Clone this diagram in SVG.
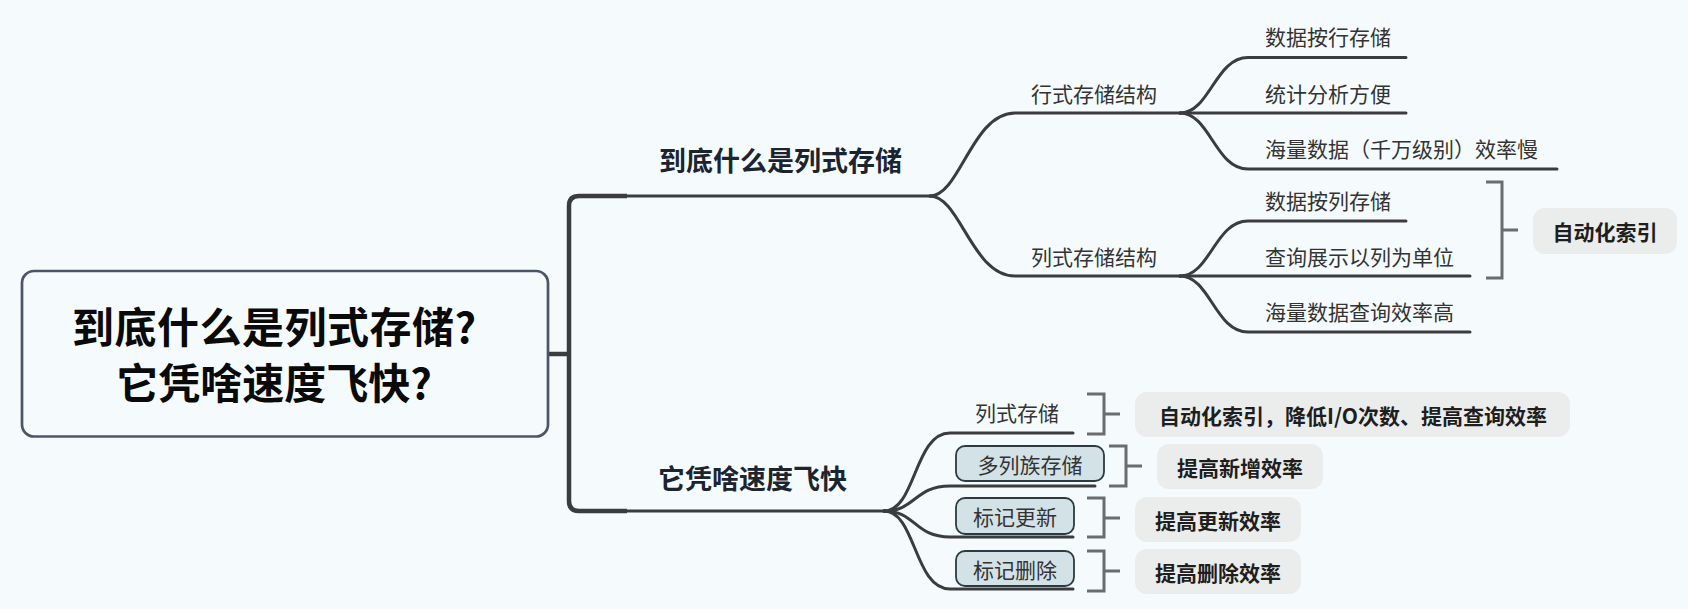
<svg xmlns="http://www.w3.org/2000/svg" width="1688" height="609" viewBox="0 0 1688 609">
<style>
text{font-family:"Noto Sans CJK SC","Noto Sans",sans-serif;dominant-baseline:central}
.root{font-size:42px;font-weight:700;fill:#0a0a0a}
.main{font-size:27px;font-weight:700;fill:#1c2430}
.leaf{font-size:21px;fill:#333333}
.note{font-size:21px;font-weight:700;fill:#1e1e1e}
.ln{fill:none;stroke:#3a3c3e;stroke-width:3;stroke-linecap:round}
.thick{fill:none;stroke:#3a3c3e;stroke-width:4.5}
.br{fill:none;stroke:#6a6d70;stroke-width:3}
.nbox{fill:#ebecec}
.tbox{fill:#d3e2e7;stroke:#2c3a42;stroke-width:1.8}
</style>
<rect width="1688" height="609" fill="#f5fbfc"/>
<g id="connectors">
  <path class="thick" d="M548 354 H569"/>
  <path class="thick" d="M627 196 H579 Q569 196 569 206 V501 Q569 511 579 511 H627"/>
  <path class="ln" d="M627 196 H932"/>
  <path class="ln" d="M627 511 H886"/>
  <path class="ln" d="M930 196 C960 196 972 113 1015 113 H1180"/>
  <path class="ln" d="M930 196 C960 196 972 276 1015 276 H1180"/>
  <path class="ln" d="M1180 113 C1210 113 1215 57.5 1248 57.5 H1406"/>
  <path class="ln" d="M1180 113 H1406"/>
  <path class="ln" d="M1180 113 C1210 113 1215 169 1248 169 H1557"/>
  <path class="ln" d="M1180 276 C1210 276 1215 221 1248 221 H1406"/>
  <path class="ln" d="M1180 276 H1470"/>
  <path class="ln" d="M1180 276 C1210 276 1215 332 1248 332 H1470"/>
  <path class="ln" d="M884 511 C916 511 914 433 950 433 H1073"/>
  <path class="ln" d="M884 511 C916 511 914 486 950 486 H1095"/>
  <path class="ln" d="M884 511 C916 511 914 537 950 537 H1073"/>
  <path class="ln" d="M884 511 C916 511 914 589 950 589 H1073"/>
  <path class="br" d="M1486 182 H1502 V278 H1486 M1502 230 H1518"/>
  <path class="br" d="M1087 394 H1104 V434 H1087 M1104 414 H1120"/>
  <path class="br" d="M1109 446 H1126 V486 H1109 M1126 466 H1142"/>
  <path class="br" d="M1087 498 H1104 V537 H1087 M1104 518 H1120"/>
  <path class="br" d="M1087 551 H1104 V591 H1087 M1104 571 H1120"/>
</g>
<g id="root">
  <rect x="22" y="271" width="526" height="165.5" rx="12" fill="#f5fbfc" stroke="#4b5567" stroke-width="2.7"/>
  <text class="root" x="274" y="324" text-anchor="middle" textLength="404" lengthAdjust="spacing">到底什么是列式存储?</text>
  <text class="root" x="274" y="380" text-anchor="middle">它凭啥速度飞快?</text>
</g>
<g id="n-what"><text class="main" x="659" y="159">到底什么是列式存储</text></g>
<g id="n-why"><text class="main" x="658" y="477">它凭啥速度飞快</text></g>
<g id="n-row"><text class="leaf" x="1031" y="93">行式存储结构</text></g>
<g id="n-col"><text class="leaf" x="1031" y="256">列式存储结构</text></g>
<g id="n-r1"><text class="leaf" x="1265" y="36">数据按行存储</text></g>
<g id="n-r2"><text class="leaf" x="1265" y="93">统计分析方便</text></g>
<g id="n-r3"><text class="leaf" x="1265" y="148">海量数据（千万级别）效率慢</text></g>
<g id="n-c1"><text class="leaf" x="1265" y="200">数据按列存储</text></g>
<g id="n-c2"><text class="leaf" x="1265" y="256">查询展示以列为单位</text></g>
<g id="n-c3"><text class="leaf" x="1265" y="311">海量数据查询效率高</text></g>
<g id="n-auto">
  <rect class="nbox" x="1533" y="208" width="144" height="46" rx="12"/>
  <text class="note" x="1605" y="231" text-anchor="middle">自动化索引</text>
</g>
<g id="n-colstore"><text class="leaf" x="1017" y="412" text-anchor="middle">列式存储</text></g>
<g id="n-family">
  <rect class="tbox" x="956" y="446" width="148" height="35" rx="9"/>
  <text class="leaf" x="1030" y="463.5" text-anchor="middle">多列族存储</text>
</g>
<g id="n-update">
  <rect class="tbox" x="956" y="498" width="118" height="36" rx="9"/>
  <text class="leaf" x="1015" y="516" text-anchor="middle">标记更新</text>
</g>
<g id="n-delete">
  <rect class="tbox" x="956" y="551" width="118" height="35" rx="9"/>
  <text class="leaf" x="1015" y="568.5" text-anchor="middle">标记删除</text>
</g>
<g id="n-note1">
  <rect class="nbox" x="1135" y="392" width="435" height="45" rx="12"/>
  <text class="note" x="1353" y="414.5" text-anchor="middle">自动化索引，降低I/O次数、提高查询效率</text>
</g>
<g id="n-note2">
  <rect class="nbox" x="1157" y="444" width="166" height="45" rx="12"/>
  <text class="note" x="1240" y="466.5" text-anchor="middle">提高新增效率</text>
</g>
<g id="n-note3">
  <rect class="nbox" x="1135" y="497" width="166" height="45" rx="12"/>
  <text class="note" x="1218" y="519.5" text-anchor="middle">提高更新效率</text>
</g>
<g id="n-note4">
  <rect class="nbox" x="1135" y="549" width="166" height="45" rx="12"/>
  <text class="note" x="1218" y="571.5" text-anchor="middle">提高删除效率</text>
</g>
</svg>
